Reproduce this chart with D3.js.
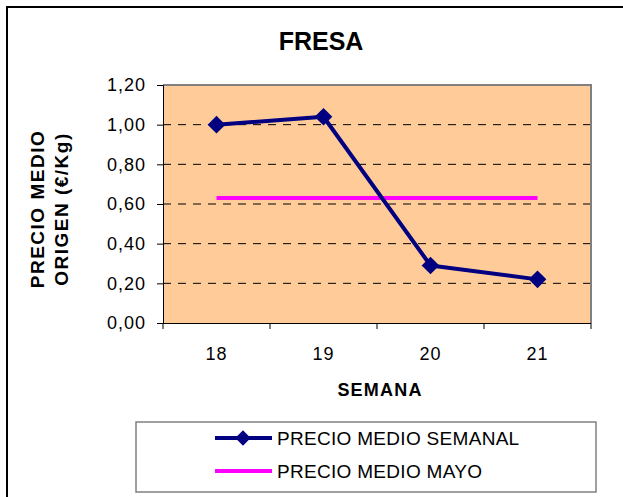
<!DOCTYPE html>
<html>
<head>
<meta charset="utf-8">
<script src="https://cdn.jsdelivr.net/npm/d3@7"></script>
<style>
  html, body { margin: 0; padding: 0; background: #fff; }
  svg { display: block; font-family: "Liberation Sans", Arial, sans-serif; }
</style>
</head>
<body>
<svg id="chart" width="623" height="497"></svg>
<script>
// Datos del grafico
const semanas = ["18", "19", "20", "21"];
const precioSemanal = [1.00, 1.04, 0.29, 0.22];
const precioMayo = [0.63, 0.63, 0.63, 0.63];
const yTicks = [0, 0.2, 0.4, 0.6, 0.8, 1.0, 1.2];
const seriesNames = ["PRECIO MEDIO SEMANAL", "PRECIO MEDIO MAYO"];

const svg = d3.select("#chart");

// Marco exterior
svg.append("rect")
  .attr("x", 7).attr("y", 7).attr("width", 630).attr("height", 500)
  .attr("fill", "#fff").attr("stroke", "#000").attr("stroke-width", 2);

// Area del grafico
const plot = { left: 163, right: 591, top: 85, bottom: 323 };

const xScale = d3.scaleBand().domain(semanas).range([plot.left, plot.right]);
const yScale = d3.scaleLinear().domain([0, 1.2]).range([plot.bottom, plot.top]);

const locale = d3.formatLocale({ decimal: ",", thousands: ".", grouping: [3], currency: ["", "€"] });
const fmt = locale.format(".2f");

// Titulo
svg.append("text")
  .attr("x", 321).attr("y", 50)
  .attr("text-anchor", "middle")
  .style("font-size", "25px").style("font-weight", "bold")
  .text("FRESA");

// Fondo naranja
svg.append("rect")
  .attr("x", plot.left).attr("y", plot.top)
  .attr("width", plot.right - plot.left).attr("height", plot.bottom - plot.top)
  .attr("fill", "#FFCC99");

// Lineas de cuadricula discontinuas
svg.append("g")
  .selectAll("line")
  .data(yTicks.filter(d => d > 0 && d < 1.2))
  .join("line")
    .attr("x1", plot.left).attr("x2", plot.right)
    .attr("y1", d => yScale(d)).attr("y2", d => yScale(d))
    .attr("stroke", "#000").attr("stroke-width", 1)
    .attr("stroke-dasharray", "8,7");

// Borde superior y derecho gris
svg.append("path")
  .attr("d", `M${plot.left},${plot.top}H${plot.right}V${plot.bottom}`)
  .attr("fill", "none").attr("stroke", "#808080").attr("stroke-width", 2);

// Eje Y
const yAxis = d3.axisLeft(yScale).tickValues(yTicks).tickFormat(fmt).tickSize(6).tickPadding(11);
const yAxisG = svg.append("g").attr("transform", `translate(${plot.left},0)`).call(yAxis);

// Eje X
const xAxis = d3.axisBottom(xScale).tickSize(0).tickPadding(24);
const xAxisG = svg.append("g").attr("transform", `translate(0,${plot.bottom})`).call(xAxis);

// Marcas del eje X entre categorias
const xEdges = semanas.map(s => xScale(s)).concat([plot.right]);
svg.append("g")
  .selectAll("line")
  .data(xEdges)
  .join("line")
    .attr("x1", d => d).attr("x2", d => d)
    .attr("y1", plot.bottom).attr("y2", plot.bottom + 6)
    .attr("stroke", "#000");

[yAxisG, xAxisG].forEach(g => {
  g.select(".domain").attr("stroke", "#000").attr("stroke-width", 1);
  g.selectAll("text")
    .style("font-size", "18px")
    .style("letter-spacing", "1px")
    .style("font-family", "\"Liberation Sans\", Arial, sans-serif")
    .attr("fill", "#000");
  g.selectAll(".tick line").attr("stroke", "#000");
});
xAxisG.select(".domain").attr("d", `M${plot.left},0.5H${plot.right}`);

// Titulos de ejes
svg.append("text")
  .attr("x", (plot.left + plot.right) / 2 + 3).attr("y", 396)
  .attr("text-anchor", "middle")
  .style("font-size", "18px").style("font-weight", "bold")
  .style("letter-spacing", "1.2px")
  .text("SEMANA");

const yTitle = svg.append("text")
  .attr("transform", "translate(44,209) rotate(-90)")
  .attr("text-anchor", "middle")
  .style("font-size", "19px").style("font-weight", "bold")
  .style("letter-spacing", "1.5px");
yTitle.append("tspan").attr("x", 0).attr("dy", 0).text("PRECIO MEDIO");
yTitle.append("tspan").attr("x", 0).attr("dy", 24).text("ORIGEN (€/Kg)");

// Linea precio medio mayo
const cx = d => xScale(d) + xScale.bandwidth() / 2;
const line = d3.line().x(d => cx(d[0])).y(d => yScale(d[1]));

svg.append("path")
  .datum(semanas.map((s, i) => [s, precioMayo[i]]))
  .attr("d", line)
  .attr("fill", "none").attr("stroke", "#FF00FF").attr("stroke-width", 4);

// Linea precio medio semanal
svg.append("path")
  .datum(semanas.map((s, i) => [s, precioSemanal[i]]))
  .attr("d", line)
  .attr("fill", "none").attr("stroke", "#000080").attr("stroke-width", 4)
  .attr("stroke-linejoin", "round");

const diamond = d3.symbol().type(d3.symbolDiamond2).size(200);
svg.append("g")
  .selectAll("path")
  .data(semanas.map((s, i) => [s, precioSemanal[i]]))
  .join("path")
    .attr("d", diamond)
    .attr("transform", d => `translate(${cx(d[0])},${yScale(d[1])})`)
    .attr("fill", "#000080");

// Leyenda
const legend = svg.append("g");
legend.append("rect")
  .attr("x", 136).attr("y", 422).attr("width", 460).attr("height", 70)
  .attr("fill", "#fff").attr("stroke", "#808080").attr("stroke-width", 1.5);

const legendY = [438, 471];
const legendColors = ["#000080", "#FF00FF"];
seriesNames.forEach((name, i) => {
  const g = legend.append("g").attr("transform", `translate(0,${legendY[i]})`);
  g.append("line").attr("x1", 215).attr("x2", 272).attr("y1", 0).attr("y2", 0)
    .attr("stroke", legendColors[i]).attr("stroke-width", 4);
  if (i === 0) {
    g.append("path").attr("d", d3.symbol().type(d3.symbolDiamond2).size(150))
      .attr("transform", "translate(243,0)").attr("fill", "#000080");
  }
  g.append("text").attr("x", 277).attr("y", 7)
    .style("font-size", "19px").style("letter-spacing", "0.3px").text(name);
});
</script>
</body>
</html>
